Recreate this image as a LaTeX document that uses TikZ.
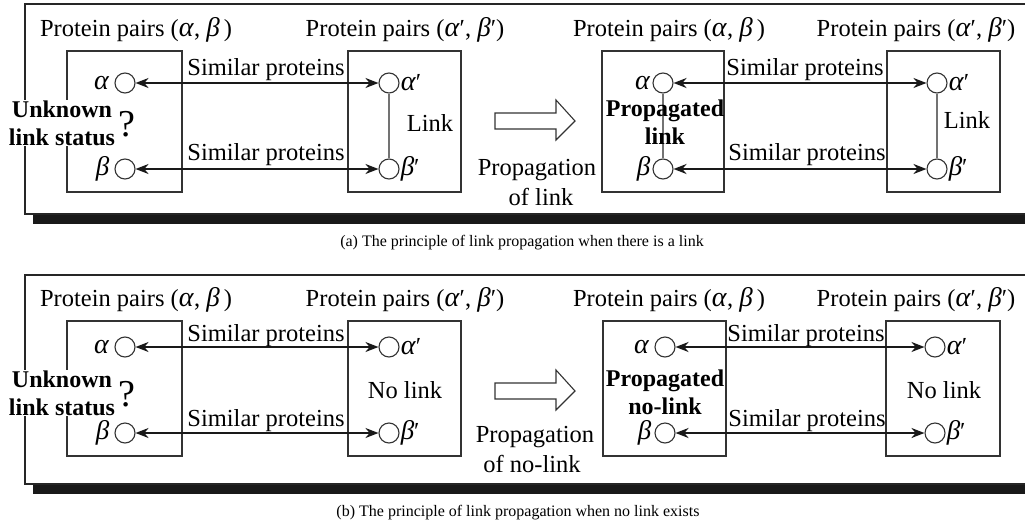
\documentclass[tikz,border=0pt]{standalone}
\usepackage{fontspec}
\setmainfont{Liberation Serif}
\usetikzlibrary{arrows.meta}
\newcommand{\ga}{{\fontsize{28}{28}\selectfont\textit{α}}}
\newcommand{\gb}{{\fontsize{27}{28}\selectfont\textit{β}}}
\tikzset{
  x=1pt, y=-1pt,
  lbl/.style={font=\fontsize{24.5}{27}\selectfont, inner sep=0pt},
  bld/.style={font=\fontsize{24}{28}\selectfont\bfseries, inner sep=0pt, align=center},
  captxt/.style={font=\fontsize{16}{18}\selectfont, inner sep=0pt},
  circ/.style={circle, draw=black!80, fill=white, minimum size=20pt, inner sep=0pt, line width=1.1pt},
  pbox/.style={draw=black!80, line width=1.2pt},
  sim/.style={{Stealth[length=13pt,width=10pt]}-{Stealth[length=13pt,width=10pt]}, line width=2pt, draw=black!90},
  lk/.style={draw=black!55, line width=1.1pt},
  pframe/.style={draw=black!85, line width=1.4pt},
  pshadow/.style={fill=black!90},
  hollow/.style={draw=black!80, line width=1.1pt, fill=white},
  qmark/.style={font=\fontsize{38}{38}\selectfont, inner sep=0pt}
}
\begin{document}
\begin{tikzpicture}
\useasboundingbox (0,0) rectangle (1025,525);
\clip (0,0) rectangle (1025,525);

% ================= PANEL (a) =================
\fill[pshadow] (33,215) rectangle (1030,224);
\draw[pframe] (1040,4) -- (25,4) -- (25,214) -- (1040,214);

\node[lbl] (ha1) at (136,30) {Protein pairs (\ga, \gb\,)};
\node[lbl] (ha2) at (405,30) {Protein pairs (\ga′, \gb′)};
\node[lbl] (ha3) at (669,30) {Protein pairs (\ga, \gb\,)};
\node[lbl] (ha4) at (916,30) {Protein pairs (\ga′, \gb′)};

\draw[pbox] (67,51) rectangle (182,192);
\draw[pbox] (348,51) rectangle (461,192);
\draw[pbox] (602,51) rectangle (724,192);
\draw[pbox] (887,51) rectangle (1000,192);

% left group
\node[circ] (aA) at (125,83) {};
\node[circ] (aB) at (125,169) {};
\node[circ] (aA2) at (389,83) {};
\node[circ] (aB2) at (389,169) {};
\node[lbl, anchor=east] (aAl) at ([xshift=-5pt]aA.west) {\ga};
\node[lbl, anchor=east] (aBl) at ([xshift=-5pt]aB.west) {\gb};
\node[lbl, anchor=west] (aA2l) at ([xshift=1pt]aA2.east) {\ga′};
\node[lbl, anchor=west] (aB2l) at ([xshift=1pt]aB2.east) {\gb′};
\draw[lk] (aA2) -- (aB2);
\node[lbl] (alink) at (430,123) {Link};
\draw[sim] (aA) -- (aA2);
\draw[sim] (aB) -- (aB2);
\node[lbl] (as1) at (266,70) {Similar proteins};
\node[lbl] (as2) at (266,155) {Similar proteins};
\node[bld, fill=white, inner sep=1pt] (aunk) at (62,123) {Unknown\\link status};
\node[qmark] (aq) at (127,124) {?};

% propagation arrow
\draw[hollow] (495,113) -- (556,113) -- (556,100) -- (575,121) -- (556,140) -- (556,129) -- (495,129) -- cycle;
\node[lbl] (ap1) at (537,170) {Propagation};
\node[lbl] (ap2) at (541,197) {of link};

% right group
\node[circ] (rA) at (663,83) {};
\node[circ] (rB) at (663,169) {};
\node[circ] (rA2) at (937,83) {};
\node[circ] (rB2) at (937,169) {};
\node[lbl, anchor=east] (rAl) at ([xshift=-2pt]rA.west) {\ga};
\node[lbl, anchor=east] (rBl) at ([xshift=-2pt]rB.west) {\gb};
\node[lbl, anchor=west] (rA2l) at ([xshift=1pt]rA2.east) {\ga′};
\node[lbl, anchor=west] (rB2l) at ([xshift=1pt]rB2.east) {\gb′};
\draw[lk] (rA) -- (rB);
\draw[lk] (rA2) -- (rB2);
\node[lbl] (rlink) at (967,120) {Link};
\node[bld] (aprop) at (665,122) {Propagated\\link};
\draw[sim] (rA) -- (rA2);
\draw[sim] (rB) -- (rB2);
\node[lbl] (rs1) at (805,70) {Similar proteins};
\node[lbl] (rs2) at (807,155) {Similar proteins};

\node[captxt] (capa) at (522,243) {(a) The principle of link propagation when there is a link};

% ================= PANEL (b) =================
\fill[pshadow] (33,485) rectangle (1030,494);
\draw[pframe] (1040,275) -- (25,275) -- (25,484) -- (1040,484);

\node[lbl] (hb1) at (136,300) {Protein pairs (\ga, \gb\,)};
\node[lbl] (hb2) at (405,300) {Protein pairs (\ga′, \gb′)};
\node[lbl] (hb3) at (669,300) {Protein pairs (\ga, \gb\,)};
\node[lbl] (hb4) at (916,300) {Protein pairs (\ga′, \gb′)};

\draw[pbox] (67,321) rectangle (182,456);
\draw[pbox] (348,321) rectangle (461,456);
\draw[pbox] (603,321) rectangle (726,456);
\draw[pbox] (886,321) rectangle (1000,456);

\node[circ] (bA) at (125,347) {};
\node[circ] (bB) at (125,433) {};
\node[circ] (bA2) at (389,347) {};
\node[circ] (bB2) at (389,433) {};
\node[lbl, anchor=east] (bAl) at ([xshift=-5pt]bA.west) {\ga};
\node[lbl, anchor=east] (bBl) at ([xshift=-5pt]bB.west) {\gb};
\node[lbl, anchor=west] (bA2l) at ([xshift=1pt]bA2.east) {\ga′};
\node[lbl, anchor=west] (bB2l) at ([xshift=1pt]bB2.east) {\gb′};
\node[lbl] (bnolink) at (405,390) {No link};
\draw[sim] (bA) -- (bA2);
\draw[sim] (bB) -- (bB2);
\node[lbl] (bs1) at (266,336) {Similar proteins};
\node[lbl] (bs2) at (266,421) {Similar proteins};
\node[bld, fill=white, inner sep=1pt] (bunk) at (62,393) {Unknown\\link status};
\node[qmark] (bq) at (127,394) {?};

\draw[hollow] (495,383) -- (556,383) -- (556,370) -- (575,391) -- (556,410) -- (556,399) -- (495,399) -- cycle;
\node[lbl] (bp1) at (535,437) {Propagation};
\node[lbl] (bp2) at (532,464) {of no-link};

\node[circ] (sA) at (665,347) {};
\node[circ] (sB) at (665,433) {};
\node[circ] (sA2) at (935,347) {};
\node[circ] (sB2) at (935,433) {};
\node[lbl, anchor=east] (sAl) at ([xshift=-5pt]sA.west) {\ga};
\node[lbl, anchor=east] (sBl) at ([xshift=-3pt]sB.west) {\gb};
\node[lbl, anchor=west] (sA2l) at ([xshift=1pt]sA2.east) {\ga′};
\node[lbl, anchor=west] (sB2l) at ([xshift=1pt]sB2.east) {\gb′};
\node[lbl] (snolink) at (944,390) {No link};
\node[bld] (bprop) at (665,392) {Propagated\\no-link};
\draw[sim] (sA) -- (sA2);
\draw[sim] (sB) -- (sB2);
\node[lbl] (ss1) at (806,336) {Similar proteins};
\node[lbl] (ss2) at (807,421) {Similar proteins};

\node[captxt] (capb) at (518,513) {(b) The principle of link propagation when no link exists};
\end{tikzpicture}
\end{document}
